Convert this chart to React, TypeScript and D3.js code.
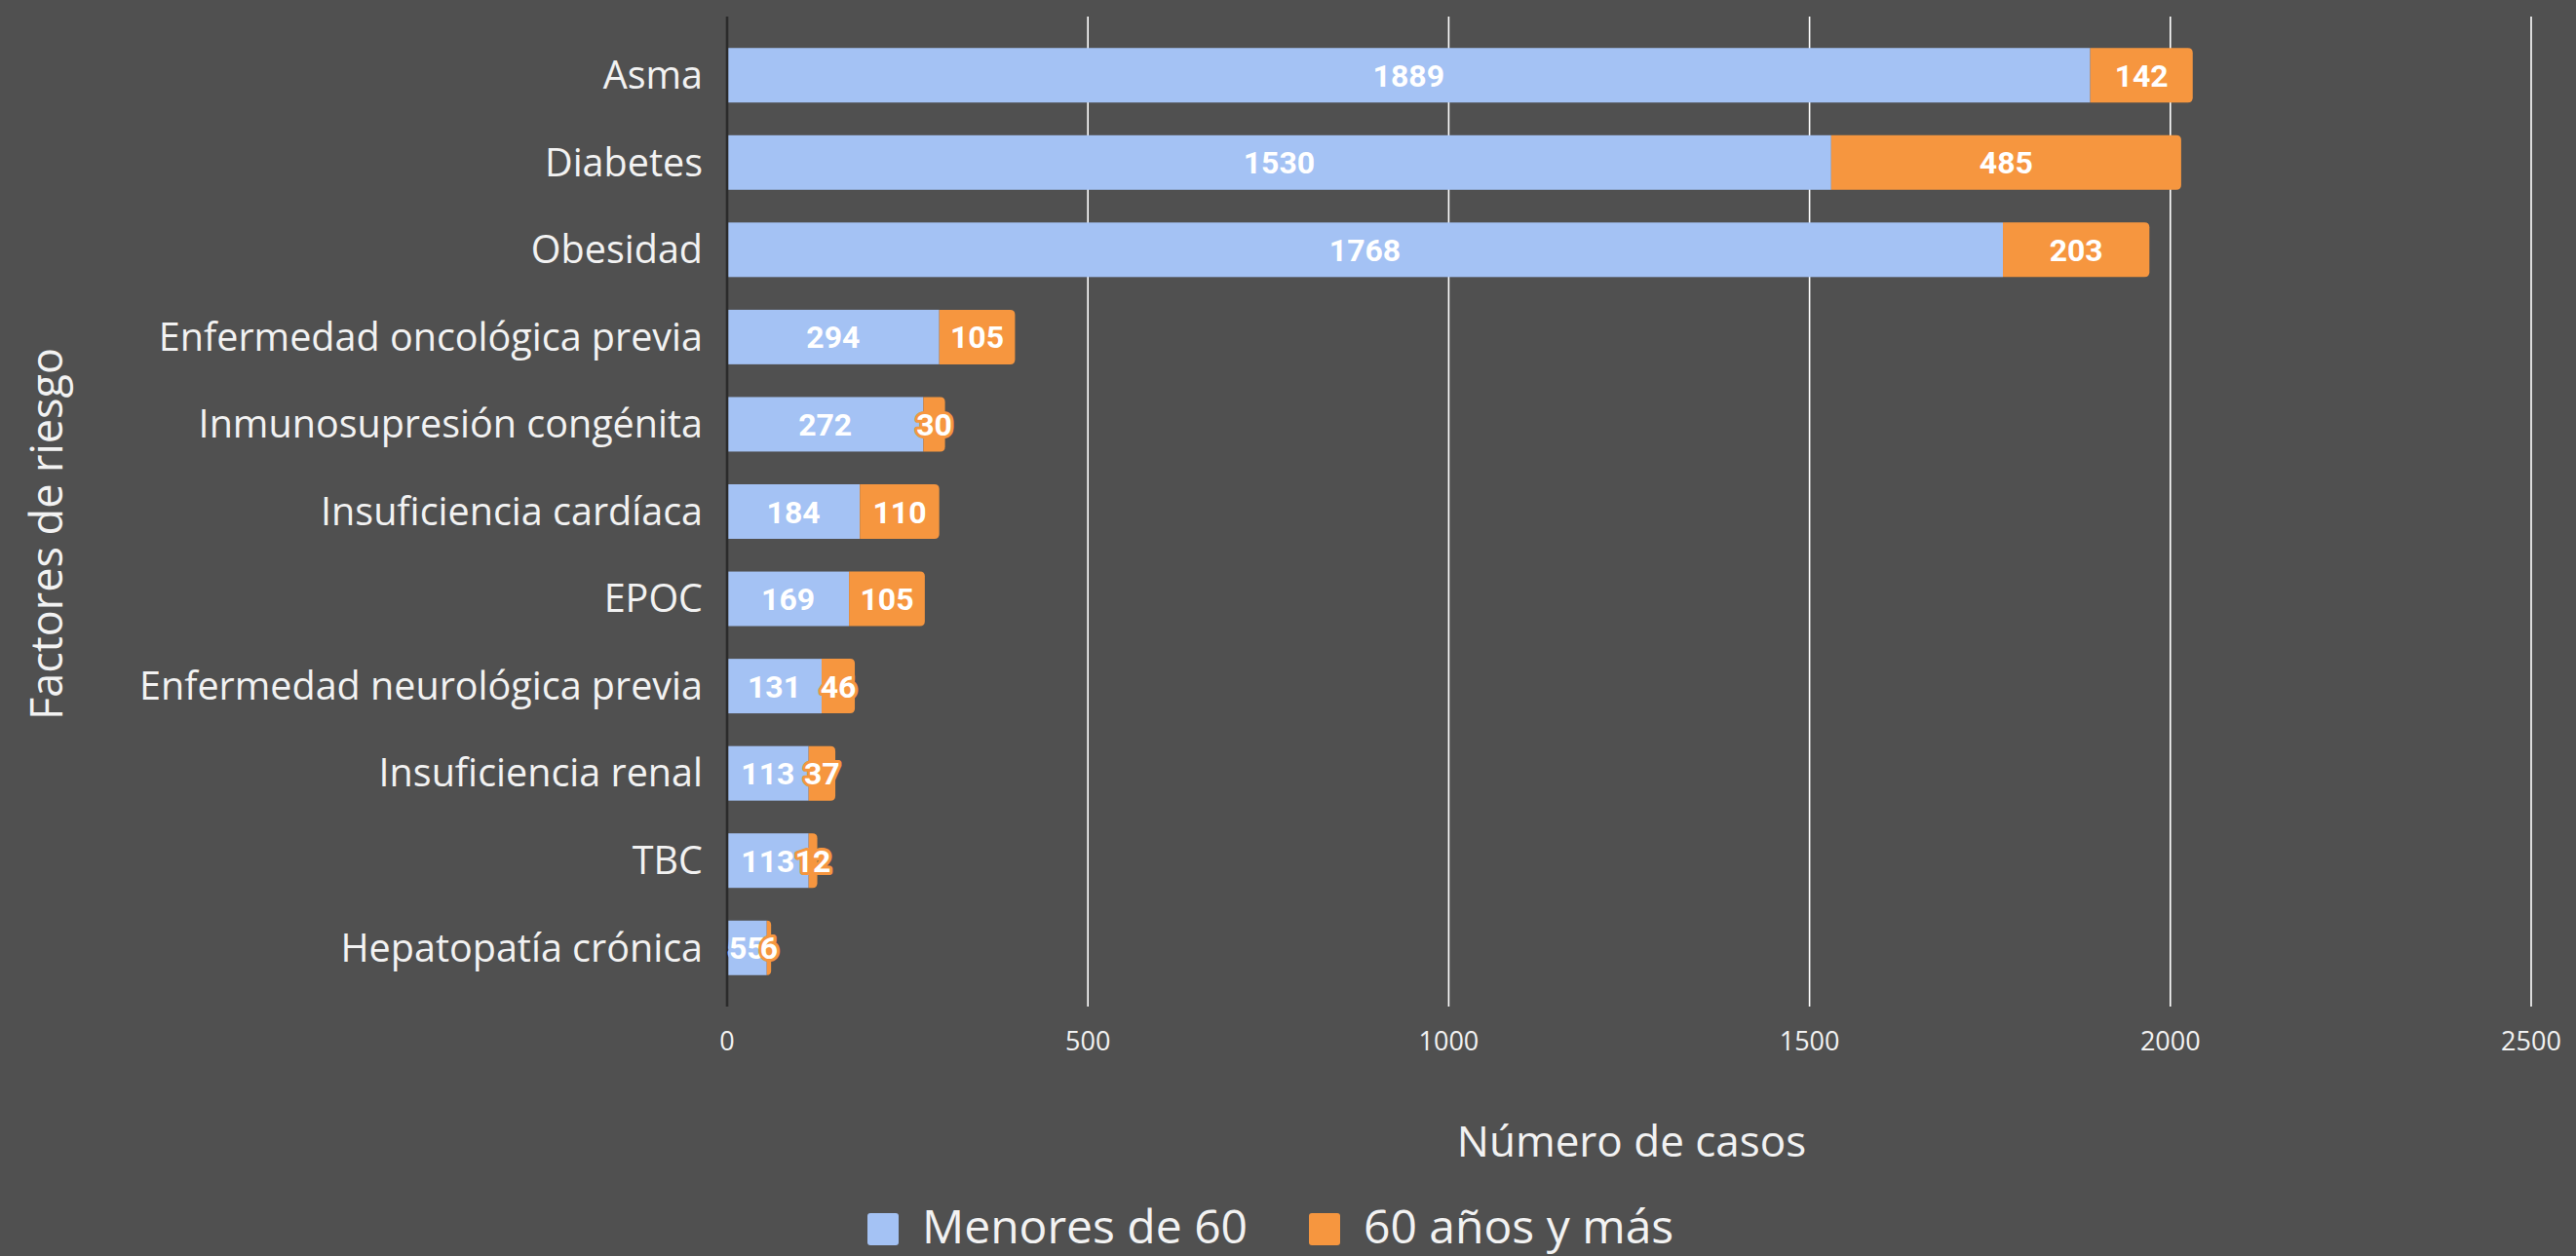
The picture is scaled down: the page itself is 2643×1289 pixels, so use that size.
import React from "react";
import * as d3 from "d3";

const categories = [
  "Asma",
  "Diabetes",
  "Obesidad",
  "Enfermedad oncológica previa",
  "Inmunosupresión congénita",
  "Insuficiencia cardíaca",
  "EPOC",
  "Enfermedad neurológica previa",
  "Insuficiencia renal",
  "TBC",
  "Hepatopatía crónica",
];
const menores60 = [1889, 1530, 1768, 294, 272, 184, 169, 131, 113, 113, 55];
const mayores60 = [142, 485, 203, 105, 30, 110, 105, 46, 37, 12, 6];
const seriesNames = ["Menores de 60", "60 años y más"];
const xTicks = [0, 500, 1000, 1500, 2000, 2500];

const W = 2643;
const H = 1289;
const BG = "#505050";
const BLUE = "#a4c2f4";
const ORANGE = "#f6963f";
const TEXT = "#f2f2f2";

function roundedRight(x0: number, x1: number, y: number, h: number, r: number) {
  const w = x1 - x0;
  const rr = Math.min(r, w, h / 2);
  return `M${x0},${y}H${x1 - rr}Q${x1},${y} ${x1},${y + rr}V${y + h - rr}Q${x1},${y + h} ${x1 - rr},${y + h}H${x0}Z`;
}

export default function App() {
  React.useEffect(() => {
    document.body.style.margin = "0";
    document.body.style.overflow = "hidden";
  }, []);

  const x = d3.scaleLinear().domain([0, 2500]).range([746, 2597]);
  const y = d3
    .scaleBand<string>()
    .domain(categories)
    .range([17, 1033])
    .paddingInner(0.375)
    .paddingOuter(0.36);
  const bw = y.bandwidth();

  const labelFont = "Roboto, sans-serif";
  const textFont = "'Open Sans', sans-serif";

  return (
    <svg
      width={W}
      height={H}
      style={{ position: "absolute", left: 0, top: 0, display: "block" }}
    >
      <rect x={0} y={0} width={W} height={H} fill={BG} />
      {/* gridlines */}
      {xTicks.slice(1).map((t) => (
        <line
          key={"g" + t}
          x1={x(t)}
          x2={x(t)}
          y1={17}
          y2={1033}
          stroke="#ffffff"
          strokeWidth={1.6}
        />
      ))}
      {/* bars */}
      {categories.map((c, i) => {
        const y0 = y(c)!;
        const a = menores60[i];
        const b = mayores60[i];
        return (
          <g key={"b" + c}>
            <rect x={x(0)} y={y0} width={x(a) - x(0)} height={bw} fill={BLUE} />
            <path d={roundedRight(x(a), x(a + b), y0, bw, 5)} fill={ORANGE} />
          </g>
        );
      })}
      {/* axis line */}
      <line x1={x(0)} x2={x(0)} y1={17} y2={1033} stroke="#2b2b2b" strokeWidth={2.6} />
      {/* blue labels */}
      {categories.map((c, i) => {
        const a = menores60[i];
        return (
          <text
            key={"lb" + c}
            x={x(a / 2)}
            y={y(c)! + bw / 2}
            dy="0.36em"
            textAnchor="middle"
            fontFamily={labelFont}
            fontWeight={700}
            fontSize={32}
            fill="#ffffff"
            stroke={BLUE}
            strokeWidth={6}
            strokeLinejoin="round"
            paintOrder="stroke"
          >
            {a}
          </text>
        );
      })}
      {/* orange labels */}
      {categories.map((c, i) => {
        const a = menores60[i];
        const b = mayores60[i];
        return (
          <text
            key={"lo" + c}
            x={x(a + b / 2)}
            y={y(c)! + bw / 2}
            dy="0.36em"
            textAnchor="middle"
            fontFamily={labelFont}
            fontWeight={700}
            fontSize={32}
            fill="#ffffff"
            stroke={ORANGE}
            strokeWidth={6}
            strokeLinejoin="round"
            paintOrder="stroke"
          >
            {b}
          </text>
        );
      })}
      {/* category labels */}
      {categories.map((c) => (
        <text
          key={"c" + c}
          x={721}
          y={y(c)! + bw / 2}
          dy="0.35em"
          textAnchor="end"
          fontFamily={textFont}
          fontSize={39.5}
          fill={TEXT}
        >
          {c}
        </text>
      ))}
      {/* x tick labels */}
      {xTicks.map((t) => (
        <text
          key={"t" + t}
          x={x(t)}
          y={1069}
          dy="0.35em"
          textAnchor="middle"
          fontFamily={textFont}
          fontSize={27}
          fill={TEXT}
        >
          {t}
        </text>
      ))}
      {/* axis titles */}
      <text
        x={1674}
        y={1172}
        dy="0.35em"
        textAnchor="middle"
        fontFamily={textFont}
        fontSize={44}
        fill={TEXT}
      >
        Número de casos
      </text>
      <text
        transform={`translate(48,548) rotate(-90)`}
        dy="0.35em"
        textAnchor="middle"
        fontFamily={textFont}
        fontSize={45}
        fill={TEXT}
      >
        Factores de riesgo
      </text>
      {/* legend */}
      {[BLUE, ORANGE].map((col, i) => {
        const sx = i === 0 ? 890 : 1343;
        return (
          <g key={"lg" + i}>
            <rect x={sx} y={1245} width={32} height={33} rx={3} fill={col} />
            <text
              x={sx + 56}
              y={1276}
              fontFamily={textFont}
              fontSize={48}
              fill={TEXT}
            >
              {seriesNames[i]}
            </text>
          </g>
        );
      })}
    </svg>
  );
}
